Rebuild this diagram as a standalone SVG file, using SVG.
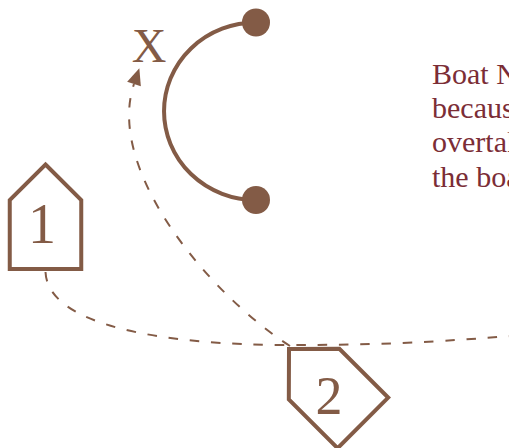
<svg xmlns="http://www.w3.org/2000/svg" width="509" height="448" viewBox="0 0 509 448">
  <style>
    .boat { fill: none; stroke: #835b46; stroke-width: 4; stroke-linejoin: miter; }
    .num { font-family: "Liberation Serif", "Times New Roman", serif; fill: #835b46; text-anchor: middle; }
    .path { fill: none; stroke: #835b46; stroke-width: 2; stroke-dasharray: 9.5 11.8; }
    .mark { fill: none; stroke: #835b46; stroke-width: 4; }
    .dot { fill: #835b46; }
    .note { font-family: "Liberation Serif", "Times New Roman", serif; font-size: 30px; fill: #7b2d36; }
  </style>
  <defs>
    <path id="boatShape" d="M0,0 L35.75,35.5 L35.75,104.5 L-35.75,104.5 L-35.75,35.5 Z"/>
    <marker id="arrow" markerUnits="userSpaceOnUse" markerWidth="20" markerHeight="20" refX="0" refY="0" viewBox="-1 -8 18 16" orient="auto">
      <path d="M0,-6.5 L15,0 L0,6.5 Z" fill="#835b46"/>
    </marker>
  </defs>

  <g id="connectors">
    <path class="path" d="M45.5,272 C48,325 160,345 290,345 S460,339 530,335"/>
    <path class="path" d="M290,346 C210,295 105,170 134,84" marker-end="url(#arrow)"/>
  </g>

  <g id="mark">
    <path class="mark" d="M256,22.5 A92 88.75 0 0 0 256,200"/>
    <circle class="dot" cx="256" cy="22.5" r="14"/>
    <circle class="dot" cx="256" cy="200" r="14"/>
  </g>

  <g id="label-x">
    <text class="num" x="149" y="61.5" font-size="48">X</text>
  </g>

  <g id="boat1">
    <use href="#boatShape" class="boat" transform="translate(45.5,164.5)"/>
    <text class="num" x="42" y="243" font-size="56">1</text>
  </g>

  <g id="boat2">
    <use href="#boatShape" class="boat" transform="translate(289,349) rotate(-45)"/>
    <text class="num" x="329" y="413.5" font-size="54">2</text>
  </g>

  <g id="note">
    <text class="note" x="432" y="84">Boat No</text>
    <text class="note" x="432" y="118.2">because</text>
    <text class="note" x="432" y="152.4">overtaking</text>
    <text class="note" x="432" y="186.6">the boat</text>
  </g>
</svg>
